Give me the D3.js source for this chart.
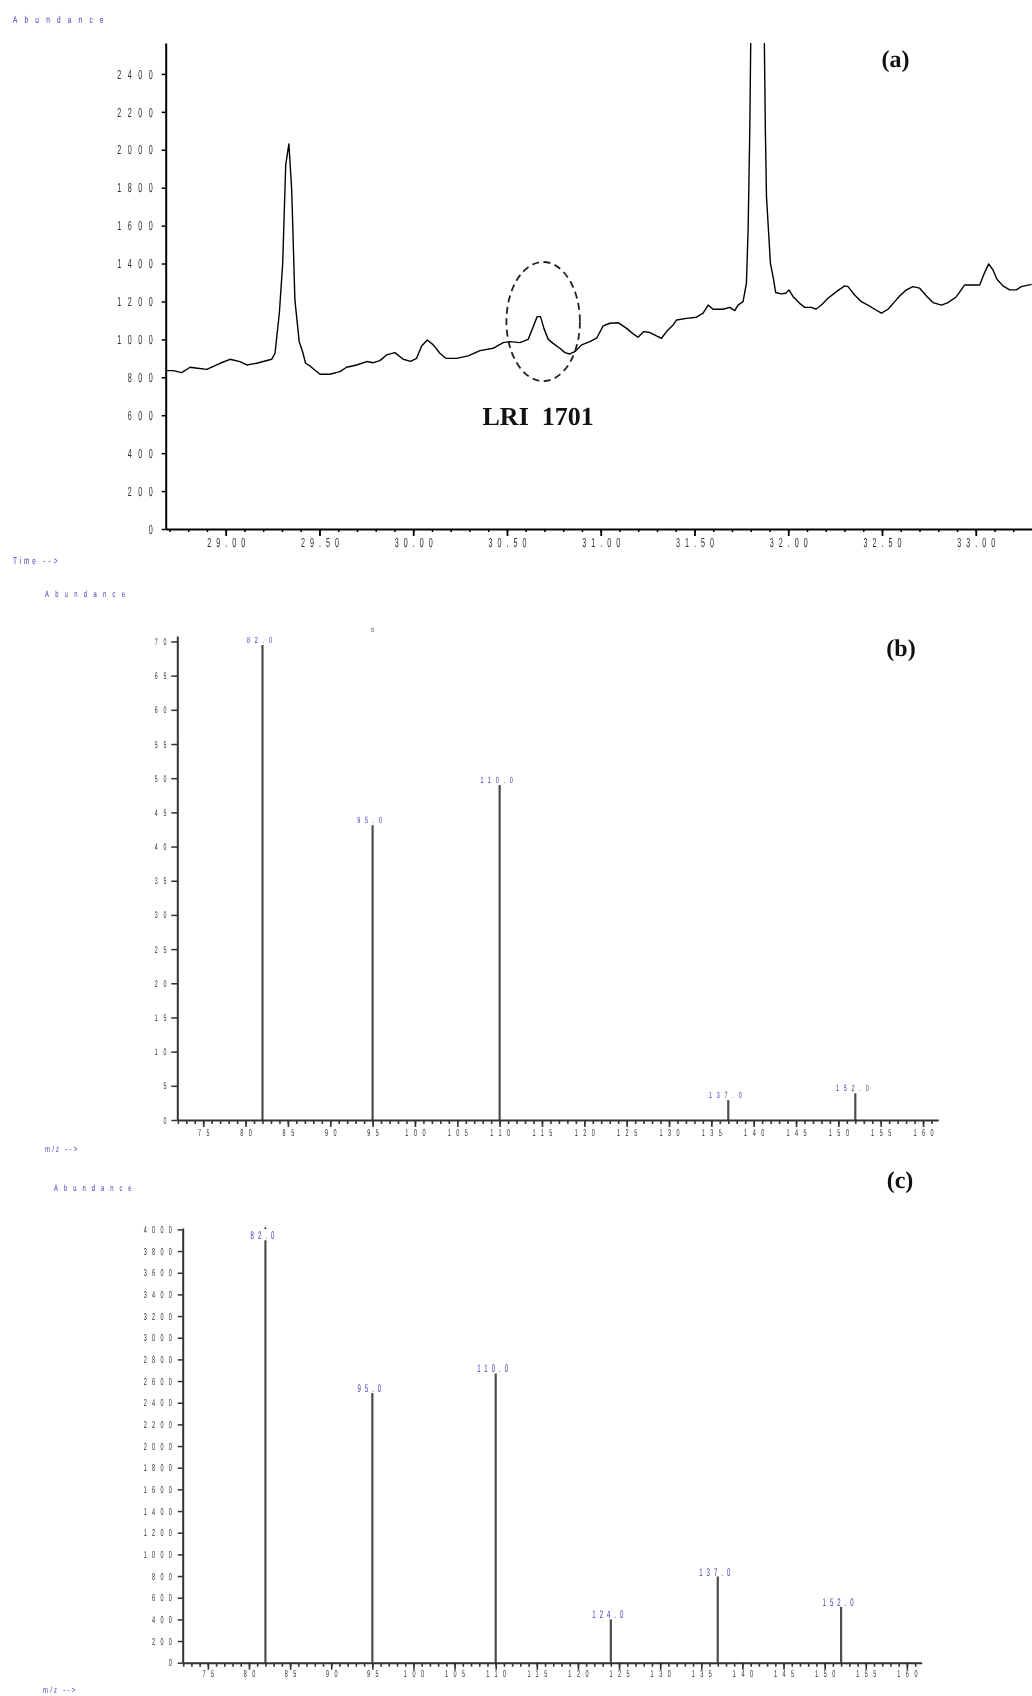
<!DOCTYPE html>
<html>
<head>
<meta charset="utf-8">
<script src="https://cdn.jsdelivr.net/npm/d3@7"></script>
<style>
  html, body { margin: 0; padding: 0; background: #fff; }
  svg { display: block; will-change: transform; }
  svg text { -webkit-font-smoothing: antialiased; text-rendering: geometricPrecision; }
</style>
</head>
<body>
<svg id="fig" width="1032" height="1696"></svg>
<script>
// ---------- Panel (a): total ion chromatogram ----------
const ticTime = [
  28.680, 28.721, 28.765, 28.810, 28.850, 28.899, 28.970, 29.023, 29.076, 29.112,
  29.165, 29.245, 29.263, 29.286, 29.304, 29.320, 29.337, 29.352, 29.369, 29.392,
  29.410, 29.426, 29.449, 29.503, 29.556, 29.609, 29.645, 29.698, 29.752, 29.787,
  29.822, 29.858, 29.902, 29.947, 29.986, 30.018, 30.045, 30.075, 30.107, 30.142,
  30.174, 30.231, 30.293, 30.356, 30.426, 30.480, 30.515, 30.569, 30.613, 30.640,
  30.661, 30.679, 30.697, 30.720, 30.746, 30.782, 30.809, 30.835, 30.862, 30.898,
  30.942, 30.978, 31.013, 31.049, 31.093, 31.138, 31.173, 31.199, 31.230, 31.262,
  31.297, 31.324, 31.351, 31.386, 31.404, 31.457, 31.511, 31.546, 31.573, 31.599,
  31.652, 31.688, 31.715, 31.732, 31.759, 31.777, 31.786, 31.795, 31.835, 31.878,
  31.884, 31.905, 31.919, 31.933, 31.964, 31.987, 32.004, 32.026, 32.061, 32.088,
  32.124, 32.147, 32.177, 32.212, 32.257, 32.301, 32.319, 32.354, 32.390, 32.425,
  32.461, 32.497, 32.532, 32.568, 32.594, 32.630, 32.665, 32.701, 32.737, 32.772,
  32.817, 32.852, 32.897, 32.941, 32.985, 33.021, 33.042, 33.069, 33.092, 33.113,
  33.145, 33.181, 33.216, 33.243, 33.298
];
const ticAbundance = [
  835, 835, 825, 853, 848, 842, 874, 895, 883, 865,
  874, 895, 927, 1138, 1401, 1920, 2031, 1788, 1208, 988,
  935, 874, 860, 816, 816, 830, 853, 865, 883, 877,
  888, 918, 930, 895, 884, 900, 965, 997, 971, 927,
  900, 900, 913, 941, 953, 983, 988, 983, 1000, 1067,
  1120, 1120, 1058, 1000, 979, 953, 930, 923, 935, 971,
  988, 1006, 1071, 1085, 1088, 1058, 1029, 1011, 1041, 1036,
  1018, 1006, 1041, 1076, 1102, 1111, 1117, 1138, 1181, 1159,
  1159, 1169, 1152, 1181, 1199, 1296, 1577, 2105, 5800, 2105,
  1753, 1401, 1331, 1247, 1240, 1243, 1261, 1225, 1190, 1169,
  1169, 1159, 1181, 1217, 1252, 1282, 1278, 1234, 1199, 1181,
  1159, 1138, 1159, 1199, 1229, 1261, 1278, 1270, 1229, 1194,
  1181, 1194, 1225, 1287, 1287, 1287, 1340, 1398, 1366, 1317,
  1282, 1261, 1261, 1278, 1290
];
const ticYTicks = d3.range(0, 2401, 200);
const ticXMajor = [29.0, 29.5, 30.0, 30.5, 31.0, 31.5, 32.0, 32.5, 33.0];
const ticXMinor = d3.range(287, 333).map(d => d / 10);
const lriLabel = "LRI\u00A0\u00A01701";
const lriCenter = { time: 30.693, abundance: 1094, halfTime: 0.196, halfAbundance: 314 };

// ---------- Panel (b): mass spectrum (library) ----------
const specBmz = [82, 95, 110, 137, 152];
const specBabundance = [69.5, 43.1, 49.0, 2.9, 3.9];
const specBYTicks = d3.range(0, 71, 5);

// ---------- Panel (c): mass spectrum (sample) ----------
const specCmz = [82, 95, 110, 124, 137, 152];
const specCabundance = [3900, 2490, 2670, 400, 795, 515];
const specCYTicks = d3.range(0, 4001, 200);

const mzMajor = d3.range(75, 161, 5);
const mzMinor = d3.range(72, 162, 1);

// ---------- shared styling ----------
const FONT = "'Liberation Sans', Arial, sans-serif";
const SERIF = "'Liberation Serif', 'Times New Roman', serif";
const BLUE = "#3a3ab8";
const GREY = "#2e2e2e";

const svg = d3.select("#fig");

// Narrow, widely spaced instrument-style text
function spacedLabel(parent, x, y, str, o) {
  const ls = o.ls / o.sx;
  const shift = o.anchor === "end" ? ls : o.anchor === "middle" ? ls / 2 : 0;
  return parent.append("text")
    .attr("transform", `translate(${x},${y}) scale(${o.sx},1)`)
    .attr("x", shift)
    .attr("text-anchor", o.anchor || "start")
    .attr("font-family", FONT)
    .attr("font-size", o.size)
    .attr("fill", o.fill)
    .style("letter-spacing", ls + "px")
    .text(str);
}

function spaceTicks(g, o) {
  const ls = o.ls / o.sx;
  const shift = o.anchor === "end" ? ls : o.anchor === "middle" ? ls / 2 : 0;
  g.selectAll(".tick text").each(function () {
    const t = d3.select(this);
    const x0 = +t.attr("x") || 0;
    t.attr("x", x0 / o.sx + shift)
      .attr("transform", `scale(${o.sx},1)`)
      .attr("font-size", o.size)
      .attr("font-family", FONT)
      .attr("fill", o.fill)
      .style("letter-spacing", ls + "px");
    if (o.baseline != null) t.attr("y", o.baseline).attr("dy", null);
  });
}

function styleAxis(g, color, lineW, tickW) {
  g.select(".domain").attr("stroke", color).attr("stroke-width", lineW);
  g.selectAll(".tick line").attr("stroke", color).attr("stroke-width", tickW);
}

// ================= Panel (a) =================
{
  const x = d3.scaleLinear().domain([28.68, 33.30]).range([165.7, 1032]);
  const y = d3.scaleLinear().domain([0, 2563]).range([529, 43]);

  svg.append("defs").append("clipPath").attr("id", "clipA")
    .append("rect").attr("x", 165.7).attr("y", 43).attr("width", 1032 - 165.7).attr("height", 529 - 43);

  const pts = ticTime.map((t, i) => [t, ticAbundance[i]]);
  svg.append("path")
    .datum(pts)
    .attr("clip-path", "url(#clipA)")
    .attr("fill", "none")
    .attr("stroke", "#000")
    .attr("stroke-width", 1.4)
    .attr("stroke-linejoin", "round")
    .attr("d", d3.line().x(d => x(d[0])).y(d => y(d[1])));

  // axes
  const gy = svg.append("g").attr("transform", `translate(${x.range()[0]},0)`)
    .call(d3.axisLeft(y).tickValues(ticYTicks).tickSize(4).tickSizeOuter(0).tickPadding(9).tickFormat(d3.format("d")));
  styleAxis(gy, "#000", 2, 1.5);
  spaceTicks(gy, { size: 13, sx: 0.55, ls: 6.5, fill: GREY, anchor: "end" });

  const gxMinor = svg.append("g").attr("transform", `translate(0,${y(0)})`)
    .call(d3.axisBottom(x).tickValues(ticXMinor).tickSize(3).tickSizeOuter(0).tickFormat(""));
  gxMinor.select(".domain").remove();
  gxMinor.selectAll(".tick line").attr("stroke", "#000").attr("stroke-width", 1.5);

  const gx = svg.append("g").attr("transform", `translate(0,${y(0)})`)
    .call(d3.axisBottom(x).tickValues(ticXMajor).tickSize(7).tickSizeOuter(0).tickFormat(d3.format(".2f")));
  styleAxis(gx, "#000", 2, 1.8);
  spaceTicks(gx, { size: 13, sx: 0.55, ls: 5.0, fill: GREY, anchor: "middle", baseline: 18 });

  // marked peak
  svg.append("ellipse")
    .attr("cx", x(lriCenter.time)).attr("cy", y(lriCenter.abundance))
    .attr("rx", x(lriCenter.time + lriCenter.halfTime) - x(lriCenter.time))
    .attr("ry", y(lriCenter.abundance - lriCenter.halfAbundance) - y(lriCenter.abundance))
    .attr("fill", "none").attr("stroke", "#222").attr("stroke-width", 1.8)
    .attr("stroke-dasharray", "7,4.5");

  svg.append("text")
    .attr("x", x(lriCenter.time) - 5).attr("y", 425)
    .attr("text-anchor", "middle")
    .attr("font-family", SERIF).attr("font-weight", "bold").attr("font-size", 26)
    .attr("fill", "#111").text(lriLabel);

  svg.append("text").attr("x", 895.5).attr("y", 67).attr("text-anchor", "middle")
    .attr("font-family", SERIF).attr("font-weight", "bold").attr("font-size", 24)
    .attr("fill", "#111").text("(a)");

  spacedLabel(svg, 13, 23, "Abundance", { size: 10, sx: 0.65, ls: 7.2, fill: BLUE });
  spacedLabel(svg, 13, 564, "Time -->", { size: 10, sx: 0.65, ls: 2.9, fill: BLUE });
}

// ================= Mass spectrum panels =================
function drawSpectrum(cfg) {
  const x = d3.scaleLinear().domain([71.94, 161.8]).range([cfg.left, cfg.right]);
  const y = d3.scaleLinear().domain([0, cfg.yMax]).range([cfg.base, cfg.top]);

  // bars
  svg.append("g").selectAll("line").data(cfg.mz).join("line")
    .attr("x1", d => x(d)).attr("x2", d => x(d))
    .attr("y1", y(0)).attr("y2", (d, i) => y(cfg.values[i]))
    .attr("stroke", "#4d4d4d").attr("stroke-width", 2.2);

  // bar labels
  cfg.mz.forEach((m, i) => {
    spacedLabel(svg, x(m) - 3, y(cfg.values[i]) - cfg.labelGap, m.toFixed(1),
      { size: cfg.labelSize, sx: cfg.labelSx, ls: cfg.labelLs, fill: BLUE, anchor: "middle" });
  });

  // y axis
  const gy = svg.append("g").attr("transform", `translate(${cfg.left},0)`)
    .call(d3.axisLeft(y).tickValues(cfg.yTicks).tickSize(cfg.yTickSize).tickSizeOuter(0)
      .tickPadding(cfg.yPad).tickFormat(d3.format("d")));
  styleAxis(gy, "#333", 2, 1.5);
  spaceTicks(gy, { size: cfg.yFont, sx: 0.55, ls: cfg.yLs, fill: GREY, anchor: "end" });

  // x axis: minor ticks every unit, labelled ticks every 5
  const gxMinor = svg.append("g").attr("transform", `translate(0,${y(0)})`)
    .call(d3.axisBottom(x).tickValues(mzMinor).tickSize(4).tickSizeOuter(0).tickFormat(""));
  gxMinor.select(".domain").remove();
  gxMinor.selectAll(".tick line").attr("stroke", "#333").attr("stroke-width", 1.6);

  const gx = svg.append("g").attr("transform", `translate(0,${y(0)})`)
    .call(d3.axisBottom(x).tickValues(mzMajor).tickSize(7).tickSizeOuter(0).tickFormat(d3.format("d")));
  styleAxis(gx, "#333", 2, 1.6);
  spaceTicks(gx, { size: 10, sx: 0.55, ls: 5.5, fill: GREY, anchor: "middle", baseline: cfg.xBaseline });

  return { x, y };
}

// Panel (b)
{
  const s = drawSpectrum({
    mz: specBmz, values: specBabundance, yMax: 70.8, yTicks: specBYTicks,
    left: 177.3, right: 938.3, base: 1120, top: 636,
    yTickSize: 6, yPad: 5, yFont: 9.5, yLs: 5.8,
    labelSize: 9, labelSx: 0.6, labelLs: 4.8, labelGap: 2,
    xBaseline: 16
  });
  spacedLabel(svg, s.x(95), 632, "s", { size: 8, sx: 0.8, ls: 0, fill: "#555", anchor: "middle" });
  svg.append("text").attr("x", 901).attr("y", 656).attr("text-anchor", "middle")
    .attr("font-family", SERIF).attr("font-weight", "bold").attr("font-size", 24)
    .attr("fill", "#111").text("(b)");
  spacedLabel(svg, 45, 597, "Abundance", { size: 9, sx: 0.65, ls: 6.3, fill: BLUE });
  spacedLabel(svg, 45, 1152, "m/z -->", { size: 9, sx: 0.65, ls: 2.3, fill: BLUE });
}

// Panel (c)
{
  const s = drawSpectrum({
    mz: specCmz, values: specCabundance, yMax: 4013, yTicks: specCYTicks,
    left: 182.7, right: 921.7, base: 1662.7, top: 1228,
    yTickSize: 5, yPad: 6, yFont: 10, yLs: 5.2,
    labelSize: 11, labelSx: 0.55, labelLs: 4.0, labelGap: 1,
    xBaseline: 14.5
  });
  // scan marker above the base peak
  svg.append("circle").attr("cx", s.x(82)).attr("cy", s.y(specCabundance[0]) - 12)
    .attr("r", 1).attr("fill", "#333");
  svg.append("text").attr("x", 900).attr("y", 1188).attr("text-anchor", "middle")
    .attr("font-family", SERIF).attr("font-weight", "bold").attr("font-size", 24)
    .attr("fill", "#111").text("(c)");
  spacedLabel(svg, 54, 1191, "Abundance", { size: 9, sx: 0.65, ls: 6.0, fill: BLUE });
  spacedLabel(svg, 43, 1693, "m/z -->", { size: 9, sx: 0.65, ls: 2.3, fill: BLUE });
}
</script>
</body>
</html>
